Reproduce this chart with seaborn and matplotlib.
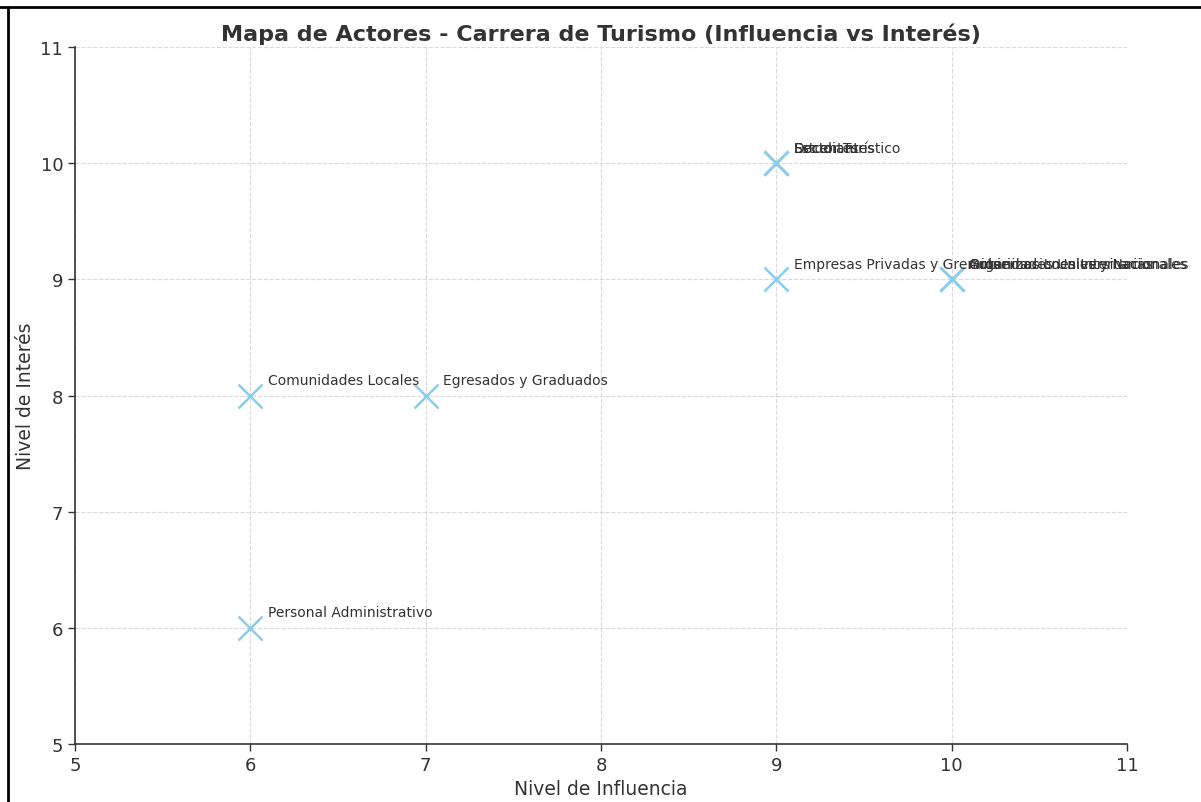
import matplotlib
matplotlib.use("Agg")
import matplotlib.pyplot as plt
from matplotlib.lines import Line2D
import seaborn as sns
import pandas as pd

actors = [
    "Estudiantes", "Docentes", "Sector Turístico",
    "Autoridades Universitarias", "Organizaciones Internacionales", "Gobiernos Locales y Nacionales",
    "Empresas Privadas y Gremios", "Egresados y Graduados",
    "Comunidades Locales", "Personal Administrativo",
]
influence = [9, 9, 9, 10, 10, 10, 9, 7, 6, 6]
interest = [10, 10, 10, 9, 9, 9, 9, 8, 8, 6]

df = pd.DataFrame({"Actor": actors, "Influencia": influence, "Interes": interest})

sns.set_style("whitegrid")
plt.rcParams['font.family'] = ['DejaVu Sans']

fig = plt.figure(figsize=(12.01, 8.03), dpi=100)
ax = fig.add_axes([0.0624, 0.0722, 0.876, 0.868])

sns.scatterplot(data=df, x="Influencia", y="Interes", marker="x", s=300,
                color="#87CEEB", linewidth=1.8, ax=ax, zorder=3)

for _, r in df.iterrows():
    ax.text(r["Influencia"] + 0.1, r["Interes"] + 0.1, r["Actor"],
            fontsize=10, color="#333333")

ax.set_xlim(5, 11)
ax.set_ylim(5, 11)
ax.set_xticks(range(5, 12))
ax.set_yticks(range(5, 12))
ax.grid(True, linestyle="--", color="#dadada", linewidth=0.8)
ax.set_axisbelow(True)
for s in ["top", "right"]:
    ax.spines[s].set_visible(False)
for s in ["left", "bottom"]:
    ax.spines[s].set_color("#333333")
    ax.spines[s].set_linewidth(1.2)
ax.tick_params(axis="both", labelsize=13, colors="#333333", length=5,
               left=True, bottom=True, width=1)
ax.set_xlabel("Nivel de Influencia", fontsize=13.5, color="#333333")
ax.set_ylabel("Nivel de Interés", fontsize=13.5, color="#333333")
ax.set_title("Mapa de Actores - Carrera de Turismo (Influencia vs Interés)",
             fontsize=16, fontweight="bold", color="#333333", pad=5)

fig.add_artist(Line2D([0, 1], [0.990, 0.990], color="black", linewidth=2,
                      transform=fig.transFigure))
fig.add_artist(Line2D([0.0067, 0.0067], [0, 0.990], color="black", linewidth=2,
                      transform=fig.transFigure))

fig.savefig("out.png", dpi=100)
